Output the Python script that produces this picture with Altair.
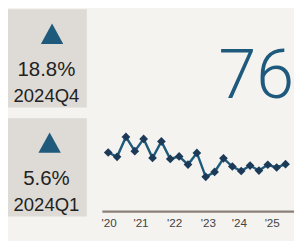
import altair as alt
import pandas as pd

# ---- data ----
values = [82, 79.8, 90, 82.7, 89, 79.2, 87.7, 78.7, 80, 75.8, 81.8,
          69.5, 72, 79, 74.8, 72.5, 75.3, 72.7, 75.7, 74.3, 76]
period = list(range(len(values)))
year_labels = ["'20", "'21", "'22", "'23", "'24", "'25"]
year_pos = [0.1, 3.7, 7.5, 11.3, 14.8, 18.5]
kpi_values = ["18.8%", "5.6%"]
kpi_periods = ["2024Q4", "2024Q1"]
big_number = ["76"]

# ---- styling ----
BG = "#f4f3f0"
BOX = "#dedad5"
BLUE = "#1f5a7c"
DARK = "#1c3a58"
BASE = "#8b7f78"
SANS = "Liberation Sans, Arial, sans-serif"
W, H = 294, 233

line_df = pd.DataFrame({"period": period, "value": values})
year_df = pd.DataFrame({"pos": year_pos, "label": year_labels})

xs = alt.Scale(domain=[0, 20], range=[103, 285.3])
ys = alt.Scale(domain=[60, 95], range=[189.3, 119.3])

TRI = "M-1,0.91L0,-0.91L1,0.91Z"


def kpi(i, top, tri_x):
    d = pd.DataFrame({"v": [kpi_values[i]], "p": [kpi_periods[i]]})
    base = alt.Chart(d)
    box = base.mark_rect(color=BOX).encode(
        x=alt.value(0), x2=alt.value(81),
        y=alt.value(top - 2), y2=alt.value(top + 99))
    tri = base.mark_point(shape=TRI, size=529, filled=True, color=BLUE,
                          opacity=1, strokeWidth=0).encode(
        x=alt.value(tri_x), y=alt.value(top + 23.2))
    t1 = base.mark_text(font=SANS, fontSize=21, color="#222222",
                        align="center", baseline="alphabetic").encode(
        x=alt.value(39.5), y=alt.value(top + 67), text="v:N")
    t2 = base.mark_text(font=SANS, fontSize=19, color="#222222",
                        align="center", baseline="alphabetic").encode(
        x=alt.value(39.5), y=alt.value(top + 93.5), text="p:N")
    return [box, tri, t1, t2]


layers = []
layers += kpi(0, 0, 45.3)
layers += kpi(1, 112, 42.8)

big = alt.Chart(pd.DataFrame({"n": big_number})).mark_text(
    font="Roboto", fontWeight=300, fontSize=70, color=BLUE, align="right",
    baseline="alphabetic").encode(x=alt.value(294), y=alt.value(89.5), text="n:N")

rule = alt.Chart(pd.DataFrame({"a": [0]})).mark_rule(
    color=BASE, strokeWidth=2.2).encode(
    x=alt.value(97), x2=alt.value(294), y=alt.value(206))

line = alt.Chart(line_df).mark_line(color=BLUE, strokeWidth=2.5).encode(
    x=alt.X("period:Q", scale=xs, axis=None),
    y=alt.Y("value:Q", scale=ys, axis=None))
pts = alt.Chart(line_df).mark_point(shape="diamond", filled=True, size=80,
                                    color=DARK, opacity=1).encode(
    x=alt.X("period:Q", scale=xs, axis=None),
    y=alt.Y("value:Q", scale=ys, axis=None))

years = alt.Chart(year_df).mark_text(font=SANS, fontSize=12, color="#444444",
                                     align="center", baseline="alphabetic").encode(
    x=alt.X("pos:Q", scale=xs, axis=None), y=alt.value(221.7), text="label:N")

chart = alt.layer(*layers, big, rule, line, pts, years).properties(
    width=W, height=H, autosize="none", padding=0, background=BG
).configure_view(stroke=None)

chart.save("out.html", embed_options={"renderer": "svg", "actions": False})
